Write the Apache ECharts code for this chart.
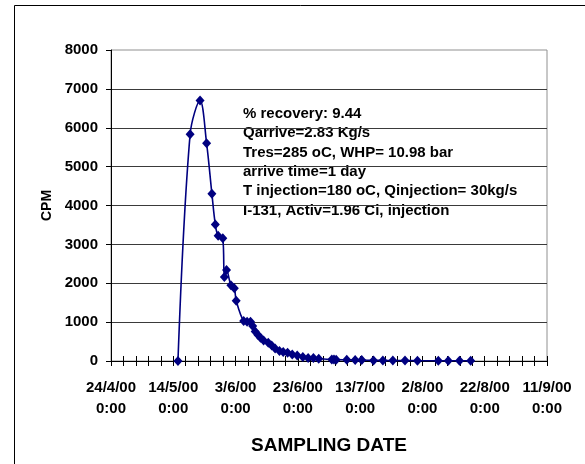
<!DOCTYPE html>
<html>
<head>
<meta charset="utf-8">
<script src="https://cdn.jsdelivr.net/npm/echarts@6/dist/echarts.min.js"></script>
<style>
  html, body { margin: 0; padding: 0; background: #fff; }
  #chart { width: 585px; height: 464px; }
</style>
</head>
<body>
<div id="chart"></div>
<script>
// days after 24/4/00 0:00 of each sample
var sampleDay = [21.5, 25.4, 28.6, 30.7, 32.4, 33.5, 34.4, 35.9, 36.4, 37.1,
  38.5, 39.6, 40.2, 42.6, 43.7, 44.8, 45.5, 46.3, 47.2, 48.0,
  49.0, 50.5, 51.6, 52.7, 54.1, 55.3, 56.7, 58.2, 59.8, 61.6,
  63.3, 65.0, 66.7, 70.9, 71.6, 72.3, 75.7, 78.4, 80.5, 84.3,
  87.3, 90.5, 94.4, 98.4, 105.1, 108.3, 111.9, 115.5];
var cpm = [0, 5830, 6700, 5600, 4300, 3510, 3220, 3160, 2160, 2340,
  1950, 1870, 1550, 1030, 1010, 1010, 900, 760, 670, 600,
  530, 470, 400, 320, 260, 230, 210, 170, 140, 100,
  80, 80, 60, 40, 40, 35, 30, 25, 25, 15,
  15, 12, 10, 8, 8, 8, 8, 8];
var dateTicks = ['24/4/00', '14/5/00', '3/6/00', '23/6/00', '13/7/00', '2/8/00', '22/8/00', '11/9/00'];
var tickDays = 20;
var notes = [
  '% recovery: 9.44',
  'Qarrive=2.83 Kg/s',
  'Tres=285 oC, WHP= 10.98 bar',
  'arrive time=1 day',
  'T injection=180 oC, Qinjection= 30kg/s',
  'I-131, Activ=1.96 Ci, injection'
];

var font = 'Liberation Sans, Arial, sans-serif';
var myChart = echarts.init(document.getElementById('chart'));

var points = [];
for (var i = 0; i < sampleDay.length; i++) {
  points.push([sampleDay[i], cpm[i]]);
}
var xMax = tickDays * (dateTicks.length - 1);

var option = {
  backgroundColor: '#fff',
  animation: false,
  grid: {
    left: 111, right: 38, top: 50, bottom: 103,
    outerBoundsMode: 'none',
    containLabel: false,
    show: true, borderColor: '#909090', borderWidth: 1
  },
  xAxis: [{
    type: 'value',
    min: 0, max: xMax, interval: tickDays,
    name: 'SAMPLING DATE',
    nameLocation: 'middle',
    nameGap: 75,
    nameTextStyle: { color: '#000', fontFamily: font, fontWeight: 'bold', fontSize: 19 },
    axisLine: { lineStyle: { color: '#000', width: 1 } },
    axisTick: { length: 5, lineStyle: { color: '#000' } },
    minorTick: { show: true, splitNumber: 5, length: 5, lineStyle: { color: '#000' } },
    splitLine: { show: false },
    axisLabel: {
      margin: 16,
      color: '#000', fontFamily: font, fontWeight: 'bold', fontSize: 15, lineHeight: 21,
      formatter: function (v) { return dateTicks[Math.round(v / tickDays)] + '\n0:00'; }
    }
  }, {
    type: 'value',
    position: 'bottom',
    min: 0, max: xMax, interval: tickDays,
    axisLine: { show: false },
    axisTick: { inside: true, length: 5, lineStyle: { color: '#000' } },
    minorTick: { show: true, splitNumber: 5, length: 5, lineStyle: { color: '#000' } },
    splitLine: { show: false },
    axisLabel: { show: false }
  }],
  yAxis: {
    type: 'value',
    min: 0, max: 8000, interval: 1000,
    name: 'CPM',
    nameLocation: 'middle',
    nameGap: 57,
    nameTextStyle: { color: '#000', fontFamily: font, fontWeight: 'bold', fontSize: 14 },
    axisLine: { show: true, lineStyle: { color: '#000', width: 1 } },
    axisTick: { show: true, length: 5, lineStyle: { color: '#000' } },
    splitLine: { show: true, showMaxLine: false, lineStyle: { color: '#3a3a3a', width: 1 } },
    axisLabel: {
      margin: 13, color: '#000', fontFamily: font, fontWeight: 'bold', fontSize: 15,
      formatter: function (v) { return String(v); }
    }
  },
  graphic: [{
    type: 'rect',
    shape: { x: 14.5, y: 5.5, width: 600, height: 500 },
    style: { fill: 'none', stroke: '#000', lineWidth: 1 },
    z: -1
  }, {
    type: 'text',
    left: 243, top: 104,
    style: {
      text: notes.join('\n'),
      fill: '#000',
      font: 'bold 15px ' + font,
      lineHeight: 19.4
    }
  }],
  series: [{
    type: 'line',
    xAxisIndex: 0,
    data: points,
    smooth: 0.35,
    symbol: 'diamond',
    symbolSize: [9, 10],
    lineStyle: { color: '#000080', width: 1.6 },
    itemStyle: { color: '#000080' }
  }]
};

myChart.setOption(option);
</script>
</body>
</html>
